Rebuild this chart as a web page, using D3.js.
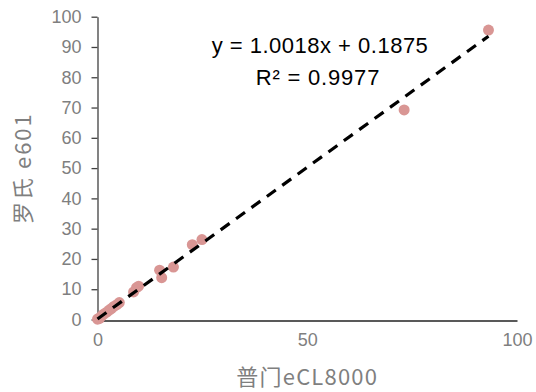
<!DOCTYPE html>
<html>
<head>
<meta charset="utf-8">
<script src="https://cdn.jsdelivr.net/npm/d3@7"></script>
<style>
  body { margin: 0; background: #fff; }
  svg { display: block; }
  .tickLabel { font-family: "Liberation Sans", Arial, sans-serif; fill: #7f7f7f; }
</style>
</head>
<body>
<div id="chart"></div>
<script>
  // 普门eCL8000 vs 罗氏 e601
  var xValues = [0, 0.2, 0.5, 1.0, 1.5, 2.2, 2.8, 3.3, 3.9, 4.6, 5.2, 8.6, 9.3, 9.8, 14.8, 15.3, 18.1, 22.6, 24.9, 73.1, 93.2];
  var yValues = [0.1, 0.3, 0.4, 1.2, 1.8, 2.4, 3.1, 3.6, 4.3, 4.9, 5.6, 9.1, 10.5, 11.0, 16.3, 13.8, 17.3, 24.7, 26.4, 69.2, 95.6];
  var xTicks = [0, 50, 100];
  var yTicks = [0, 10, 20, 30, 40, 50, 60, 70, 80, 90, 100];
  var slope = 1.0018, intercept = 0.1875;
  var eqLabel = "y = 1.0018x + 0.1875";
  var r2Label = "R² = 0.9977";
  var xTitle = "普门eCL8000";
  var yTitle = "罗氏 e601";

  var width = 536, height = 392;
  var plotLeft = 97.5, plotRight = 517, plotTop = 16.7, plotBottom = 319.5;

  var svg = d3.select("#chart").append("svg")
    .attr("width", width)
    .attr("height", height);

  var x = d3.scaleLinear().domain([0, 100]).range([plotLeft, plotRight]);
  var y = d3.scaleLinear().domain([0, 100]).range([plotBottom, plotTop]);

  var data = xValues.map(function (d, i) { return { x: d, y: yValues[i] }; });

  // y axis with ticks outside
  var yAxis = svg.append("g")
    .attr("transform", "translate(" + plotLeft + ",0)")
    .call(d3.axisLeft(y).tickValues(yTicks).tickSize(6).tickPadding(10).tickSizeOuter(0));
  yAxis.select(".domain").attr("stroke", "#404040").attr("stroke-width", 1.3);
  yAxis.selectAll(".tick line").attr("stroke", "#404040").attr("stroke-width", 1.3);
  yAxis.selectAll(".tick text")
    .attr("class", "tickLabel")
    .style("font-size", "18px");

  // x axis, no tick marks
  var xAxis = svg.append("g")
    .attr("transform", "translate(0," + (plotBottom + 1) + ")")
    .call(d3.axisBottom(x).tickValues(xTicks).tickSize(0).tickPadding(13).tickSizeOuter(0));
  xAxis.select(".domain").attr("stroke", "#595959").attr("stroke-width", 2);
  xAxis.selectAll(".tick text")
    .attr("class", "tickLabel")
    .style("font-size", "18px");

  // points
  svg.append("g").selectAll(".pt")
    .data(data)
    .enter().append("circle")
    .attr("class", "pt")
    .attr("cx", function (d) { return x(d.x); })
    .attr("cy", function (d) { return y(d.y); })
    .attr("r", 5.5)
    .attr("fill", "#d99694");

  // trend line over data range
  var xMin = d3.min(xValues), xMax = d3.max(xValues);
  svg.append("line")
    .attr("x1", x(xMin))
    .attr("y1", y(slope * xMin + intercept))
    .attr("x2", x(xMax))
    .attr("y2", y(slope * xMax + intercept))
    .attr("stroke", "#000")
    .attr("stroke-width", 3.2)
    .attr("stroke-dasharray", "11,8");

  svg.append("text")
    .attr("x", 320)
    .attr("y", 53)
    .attr("text-anchor", "middle")
    .style("font-family", "'Liberation Sans', Arial, sans-serif")
    .style("font-size", "22px")
    .style("letter-spacing", "0.5px")
    .style("fill", "#000")
    .text(eqLabel);

  svg.append("text")
    .attr("x", 318)
    .attr("y", 85)
    .attr("text-anchor", "middle")
    .style("font-family", "'Liberation Sans', Arial, sans-serif")
    .style("font-size", "22px")
    .style("letter-spacing", "0.8px")
    .style("fill", "#000")
    .text(r2Label);

  svg.append("text")
    .attr("x", (plotLeft + plotRight) / 2)
    .attr("y", 385)
    .attr("text-anchor", "middle")
    .style("font-family", "'Noto Sans CJK SC', 'Liberation Sans', sans-serif")
    .style("font-size", "22px")
    .style("letter-spacing", "1.2px")
    .style("fill", "#7f7f7f")
    .text(xTitle);

  svg.append("text")
    .attr("transform", "translate(31," + ((plotTop + plotBottom) / 2) + ") rotate(-90)")
    .attr("text-anchor", "middle")
    .style("font-family", "'Noto Sans CJK SC', 'Liberation Sans', sans-serif")
    .style("font-size", "22px")
    .style("letter-spacing", "2px")
    .style("fill", "#7f7f7f")
    .text(yTitle);
</script>
</body>
</html>
